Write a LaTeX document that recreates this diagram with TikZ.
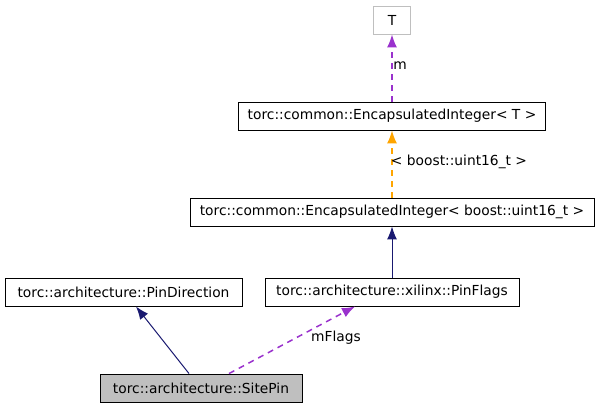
\documentclass[tikz,border=0pt]{standalone}
\usepackage{fontspec}
\setmainfont{DejaVu Sans}
\usetikzlibrary{arrows.meta}
\definecolor{navyline}{HTML}{191970}
\definecolor{orchidline}{HTML}{9A32CD}
\definecolor{orangeline}{HTML}{FFA500}
\definecolor{greybox}{HTML}{BFBFBF}
\tikzset{
  classbox/.style={draw=black,line width=0.9pt,minimum height=28pt,inner sep=0pt,font=\fontsize{13.8}{16}\selectfont},
  edgelabel/.style={font=\fontsize{13.8}{16}\selectfont},
  inherit/.style={-{Latex[length=13pt,width=10pt]},draw=navyline,line width=1pt},
  usage/.style={-{Latex[length=13pt,width=10pt]},draw=orchidline,line width=1.5pt,dash pattern=on 6pt off 5pt},
  templ/.style={-{Latex[length=13pt,width=10pt]},draw=orangeline,line width=1.5pt,dash pattern=on 6pt off 5pt}
}
\begin{document}
\begin{tikzpicture}[x=1pt,y=-1pt]
  \useasboundingbox (0,0) rectangle (599,408);

  \node[classbox,draw=greybox,minimum width=37pt] (t) at (392,20) {T};
  \node[classbox,minimum width=307pt] (eit) at (392,116) {torc::common::EncapsulatedInteger< T >};
  \node[classbox,minimum width=404pt] (eiu) at (392,212) {torc::common::EncapsulatedInteger< boost::uint16\_t >};
  \node[classbox,minimum width=254pt] (pf) at (392,292) {torc::architecture::xilinx::PinFlags};
  \node[classbox,minimum width=237pt] (pd) at (123.5,292) {torc::architecture::PinDirection};
  \node[classbox,fill=greybox,minimum width=202pt] (sp) at (201,388) {torc::architecture::SitePin};

  \draw[usage] (eit.north) -- (t.south);
  \node[edgelabel] (lm) at (400,66) {m};
  \draw[templ] (eiu.north) -- (eit.south);
  \node[edgelabel] (lu) at (459,162) {< boost::uint16\_t >};
  \draw[inherit] (pf.north) -- (eiu.south);
  \draw[inherit] ([xshift=-12pt]sp.north) -- ([xshift=12.5pt]pd.south);
  \draw[usage] ([xshift=28pt]sp.north) -- ([xshift=-37pt]pf.south);
  \node[edgelabel] (lf) at (336,338) {mFlags};
\end{tikzpicture}
\end{document}
